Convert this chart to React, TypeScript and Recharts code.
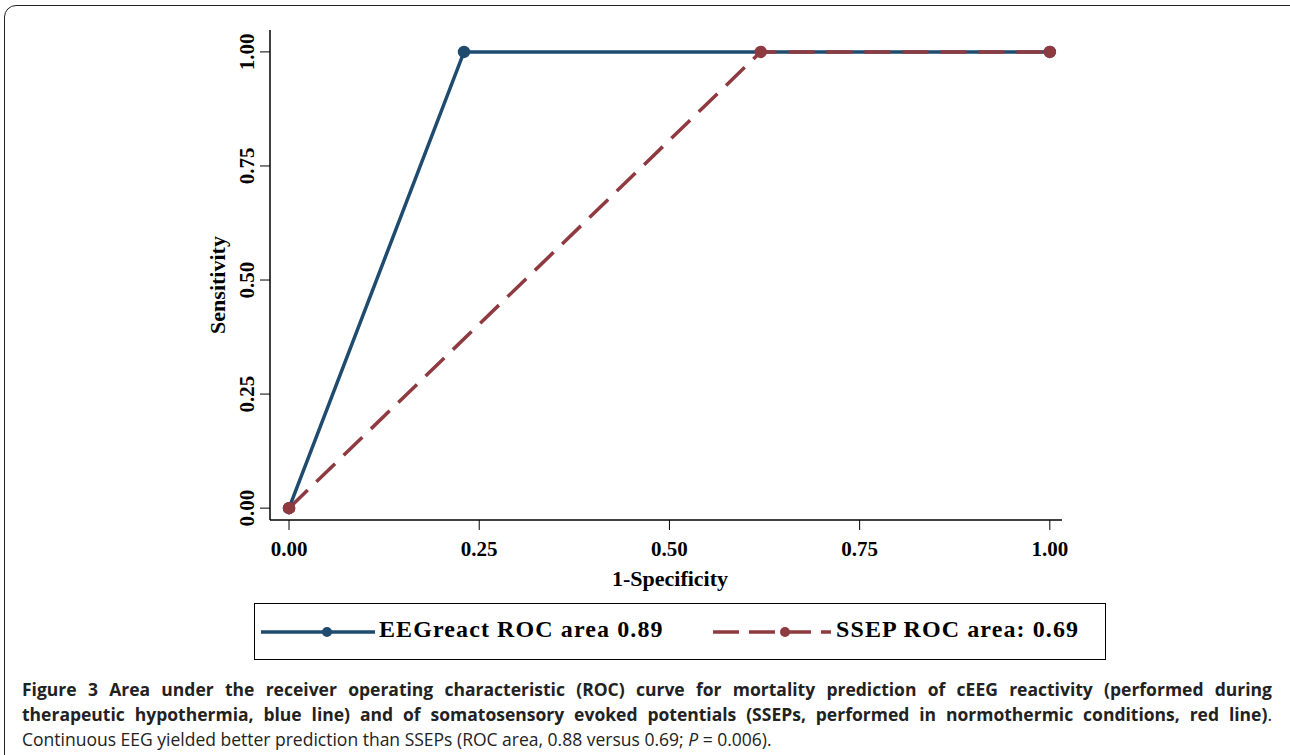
import { LineChart, Line, XAxis, YAxis } from 'recharts';

const xTicks = [0, 0.25, 0.5, 0.75, 1];
const yTicks = [0, 0.25, 0.5, 0.75, 1];
const eegPoints = [
  { x: 0, y: 0 },
  { x: 0.23, y: 1 },
  { x: 1, y: 1 },
];
const ssepPoints = [
  { x: 0, y: 0 },
  { x: 0.62, y: 1 },
  { x: 1, y: 1 },
];

const BLUE = '#1f4b6e';
const RED = '#8e3a40';
const serif = '"Liberation Serif", "Times New Roman", serif';

const legendText = { position: 'absolute' as const, top: 12, fontFamily: serif, fontWeight: 'bold' as const, fontSize: 24, letterSpacing: 1.1, whiteSpace: 'nowrap' as const };
const capLine = { textAlign: 'justify' as const, textAlignLast: 'justify' as const };

export default function App() {
  return (
    <div style={{ position: 'fixed', left: 0, top: 0, width: 1290, height: 755, background: '#fff', overflow: 'hidden' }}>
      <div style={{ position: 'absolute', left: 4, top: 5, width: 1300, height: 770, border: '1.5px solid #222', borderRadius: 12, boxSizing: 'border-box' }} />
      <div style={{ position: 'absolute', left: 0, top: 0 }}>
        <LineChart width={1290} height={600} margin={{ top: 30, right: 228, left: 210, bottom: 20 }}>
          <XAxis
            type="number"
            dataKey="x"
            domain={[-0.025, 1.016]}
            ticks={xTicks}
            tick={(p: any) => (
              <text x={p.x} y={p.y + 24} textAnchor="middle" fontSize={21} fontFamily={serif} fontWeight="bold" fill="#000">
                {Number(p.payload.value).toFixed(2)}
              </text>
            )}
            axisLine={{ stroke: '#000', strokeWidth: 1.5 }}
            tickLine={{ stroke: '#000' }}
            tickSize={10}
            height={60}
            allowDataOverflow
          />
          <YAxis
            type="number"
            dataKey="y"
            domain={[-0.026, 1.048]}
            ticks={yTicks}
            tick={(p: any) => (
              <text x={p.x - 4} y={p.y} transform={`rotate(-90 ${p.x - 4} ${p.y})`} textAnchor="middle" fontSize={21} fontFamily={serif} fontWeight="bold" fill="#000">
                {Number(p.payload.value).toFixed(2)}
              </text>
            )}
            axisLine={{ stroke: '#000', strokeWidth: 1.5 }}
            tickLine={{ stroke: '#000' }}
            tickSize={10}
            width={60}
            allowDataOverflow
          />
          <Line data={eegPoints} dataKey="y" type="linear" stroke={BLUE} strokeWidth={3.5} dot={{ r: 4.5, fill: BLUE, stroke: BLUE }} isAnimationActive={false} />
          <Line data={ssepPoints} dataKey="y" type="linear" stroke={RED} strokeWidth={3.5} strokeDasharray="26 12" dot={{ r: 4.5, fill: RED, stroke: RED, strokeDasharray: '0' }} isAnimationActive={false} />
        </LineChart>
      </div>
      <div style={{ position: 'absolute', left: 520, top: 566, width: 300, textAlign: 'center', fontFamily: serif, fontWeight: 'bold', fontSize: 22 }}>1-Specificity</div>
      <div style={{ position: 'absolute', left: 218, top: 285, transform: 'translate(-50%, -50%) rotate(-90deg)', fontFamily: serif, fontWeight: 'bold', fontSize: 22, whiteSpace: 'nowrap' }}>Sensitivity</div>
      <div style={{ position: 'absolute', left: 254, top: 603, width: 850, height: 55, border: '1.5px solid #000' }}>
        <svg width={120} height={20} style={{ position: 'absolute', left: 6, top: 18 }}>
          <line x1={0} y1={10} x2={114} y2={10} stroke={BLUE} strokeWidth={3.5} />
          <circle cx={66} cy={10} r={5} fill={BLUE} />
        </svg>
        <span style={{ ...legendText, left: 124 }}>EEGreact ROC area 0.89</span>
        <svg width={125} height={20} style={{ position: 'absolute', left: 458, top: 18 }}>
          <line x1={0} y1={10} x2={118} y2={10} stroke={RED} strokeWidth={3.5} strokeDasharray="26 10" />
          <circle cx={72} cy={10} r={5} fill={RED} />
        </svg>
        <span style={{ ...legendText, left: 581 }}>SSEP ROC area: 0.69</span>
      </div>
      <div style={{ position: 'absolute', left: 22, top: 677, width: 1250, fontFamily: '"Open Sans", sans-serif', fontSize: 17.5, lineHeight: '25px', color: '#222' }}>
        <div style={capLine}><b>Figure 3 Area under the receiver operating characteristic (ROC) curve for mortality prediction of cEEG reactivity (performed during</b></div>
        <div style={capLine}><b>therapeutic hypothermia, blue line) and of somatosensory evoked potentials (SSEPs, performed in normothermic conditions, red line)</b>.</div>
        <div>Continuous EEG yielded better prediction than SSEPs (ROC area, 0.88 versus 0.69; <i>P</i> = 0.006).</div>
      </div>
    </div>
  );
}
